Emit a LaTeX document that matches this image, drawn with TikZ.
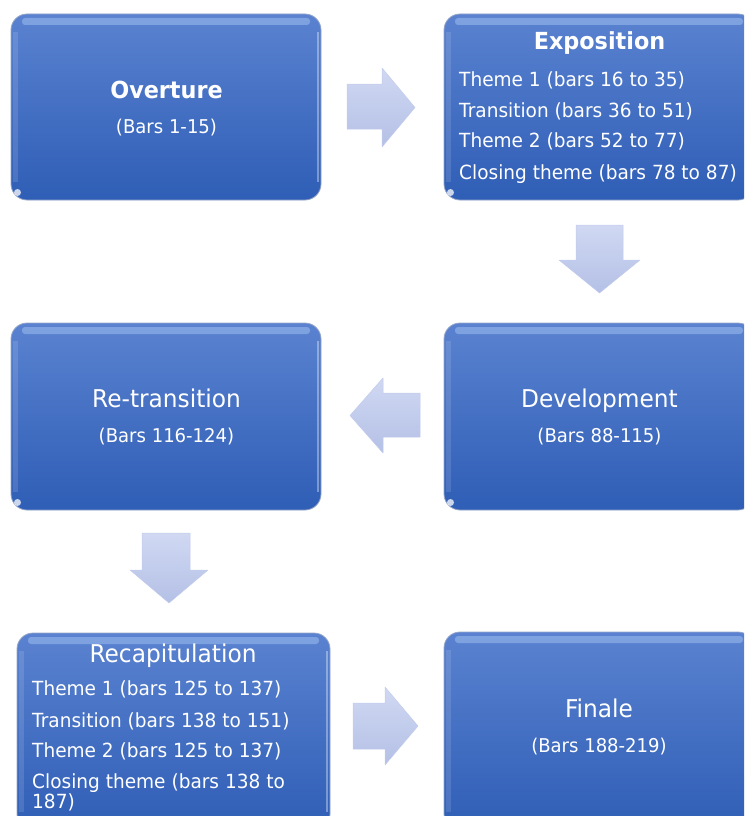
\documentclass[tikz,border=0pt]{standalone}
\usepackage{fontspec}
\setmainfont{DejaVu Sans}[FakeStretch=0.95]
\definecolor{boxtop}{RGB}{90,130,208}
\definecolor{boxbot}{RGB}{47,94,182}
\definecolor{boxedge}{RGB}{150,165,200}
\definecolor{boxhl}{RGB}{165,196,242}
\definecolor{arrtop}{RGB}{208,216,242}
\definecolor{arrbot}{RGB}{180,192,230}
\definecolor{arredge}{RGB}{194,204,236}
\tikzset{
  stagebox/.style={draw=boxedge, line width=0.8pt, rounded corners=16pt,
    top color=boxtop, bottom color=boxbot, inner sep=0pt},
  blockarrow/.style={top color=arrtop, bottom color=arrbot, draw=arredge, line width=0.5pt, line join=round},
  ttl/.style={text=white, font=\fontsize{24.5}{28}\selectfont, anchor=base, inner sep=0pt},
  ttlb/.style={text=white, font=\fontsize{23.5}{28}\selectfont\bfseries, anchor=base, inner sep=0pt},
  subttl/.style={text=white, font=\fontsize{19}{22}\selectfont, anchor=base, inner sep=0pt},
  itm/.style={text=white, font=\fontsize{19.5}{23}\selectfont, anchor=base west, inner sep=0pt},
}
% name, x1, y1, x2, y2
\newcommand\mkstage[5]{%
  \node[stagebox, minimum width={#4-#2}, minimum height={#5-#3}] (#1) at ({(#2+#4)/2},{(#3+#5)/2}) {};
  \fill[boxhl, opacity=0.5, rounded corners=3pt] (#2+11,#3+4) rectangle (#4-11,#3+11);
  \fill[white, opacity=0.12] (#2+2,#3+18) rectangle (#2+7,#5-18);
  \fill[white, opacity=0.35] (#4-4,#3+18) rectangle (#4-2.5,#5-18);
  \fill[white, opacity=0.75] (#2+6.5,#5-7.5) circle (3.5);
}
\begin{document}
\begin{tikzpicture}[x=1pt, y=-1pt]
  \useasboundingbox (0,0) rectangle (744,816);
  \clip (0,0) rectangle (744,816);

  % boxes
  \mkstage{ov}{11}{14}{321}{200}
  \mkstage{ex}{444}{14}{754}{200}
  \mkstage{dv}{444}{323}{754}{510}
  \mkstage{rt}{11}{323}{321}{510}
  \mkstage{rc}{17}{633}{330}{830}
  \mkstage{fi}{444}{632}{754}{830}

  % texts
  \node[ttlb] (ovt) at (166.5,98) {Overture};
  \node[subttl] (ovs) at (166.5,133) {(Bars 1-15)};

  \node[ttlb] (ext) at (599.5,50) {Exposition};
  \node[itm] (ex1) at (459,86) {Theme 1 (bars 16 to 35)};
  \node[itm] (ex2) at (459,117) {Transition (bars 36 to 51)};
  \node[itm] (ex3) at (459,147) {Theme 2 (bars 52 to 77)};
  \node[itm] (ex4) at (459,179) {Closing theme (bars 78 to 87)};

  \node[ttl] (dvt) at (599.5,407) {Development};
  \node[subttl] (dvs) at (599.5,442) {(Bars 88-115)};

  \node[ttl] (rtt) at (166.5,407) {Re-transition};
  \node[subttl] (rts) at (166.5,442) {(Bars 116-124)};

  \node[ttl] (rct) at (173,662) {Recapitulation};
  \node[itm] (rc1) at (32,695) {Theme 1 (bars 125 to 137)};
  \node[itm] (rc2) at (32,727) {Transition (bars 138 to 151)};
  \node[itm] (rc3) at (32,757) {Theme 2 (bars 125 to 137)};
  \node[itm] (rc4) at (32,788) {Closing theme (bars 138 to};
  \node[itm] (rc5) at (32,808) {187)};

  \node[ttl] (fit) at (599,717) {Finale};
  \node[subttl] (fis) at (599,752) {(Bars 188-219)};

  % block arrows
  \path[blockarrow] (347,84) -- (382,84) -- (382,68) -- (415,107.5) -- (382,147) -- (382,129) -- (347,129) -- cycle;
  \path[blockarrow] (576,225) -- (623,225) -- (623,260) -- (640,260) -- (599.5,293) -- (559,260) -- (576,260) -- cycle;
  \path[blockarrow] (420,393) -- (383,393) -- (383,378) -- (350,415.5) -- (383,453) -- (383,437) -- (420,437) -- cycle;
  \path[blockarrow] (142,533) -- (190,533) -- (190,570) -- (208,570) -- (169,603) -- (130,570) -- (142,570) -- cycle;
  \path[blockarrow] (353,703) -- (385,703) -- (385,687) -- (418,726) -- (385,765) -- (385,749) -- (353,749) -- cycle;
\end{tikzpicture}
\end{document}
